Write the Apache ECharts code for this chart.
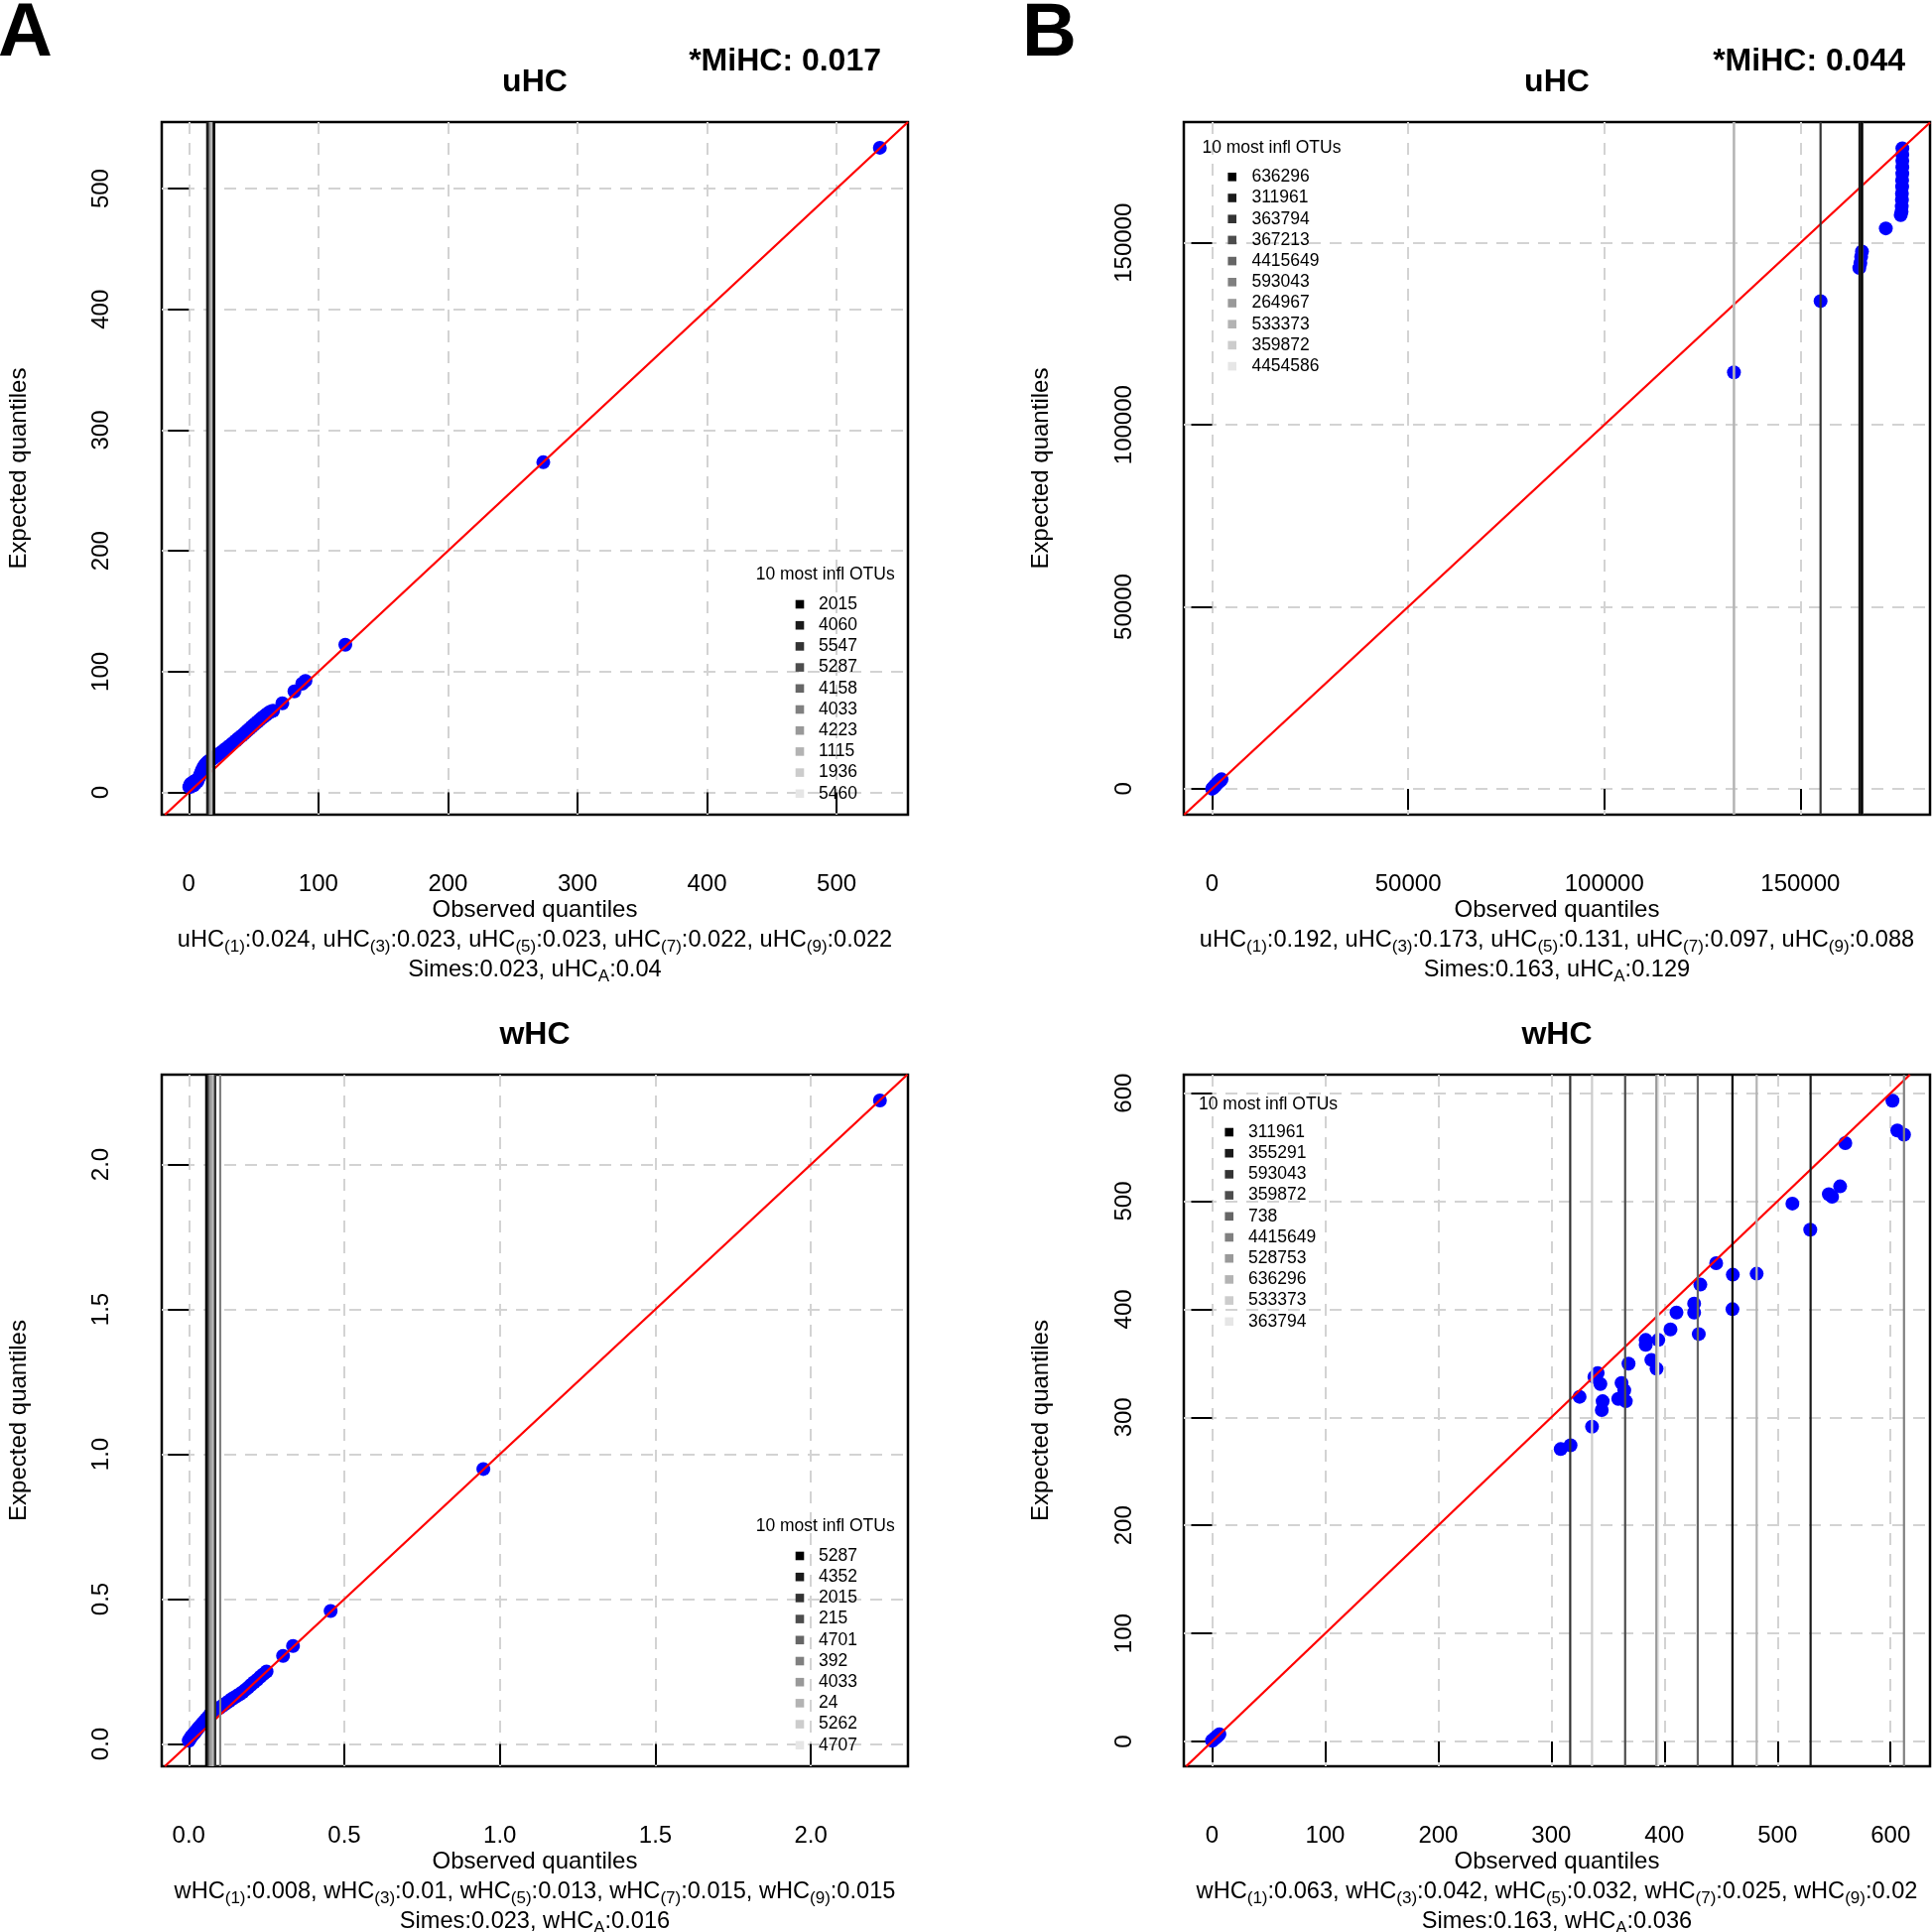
<!DOCTYPE html>
<html><head><meta charset="utf-8">
<script src="https://cdn.jsdelivr.net/npm/echarts@6/dist/echarts.min.js"></script>
<style>html,body{margin:0;padding:0;background:#fff}#c{width:1947px;height:1947px}</style>
</head><body><div id="c"></div>
<script>
// ---------------- DATA ----------------
const grayLevels = ['#000000','#1A1A1A','#333333','#4D4D4D','#666666','#808080','#999999','#B3B3B3','#CCCCCC','#E6E6E6'];
const subIdx = [1,3,5,7,9];

// Panel A, uHC
const xTicksA_u = [0,100,200,300,400,500];
const xLabelsA_u = ['0','100','200','300','400','500'];
const yTicksA_u = [0,100,200,300,400,500];
const yLabelsA_u = ['0','100','200','300','400','500'];
const obsA_u = [0.4,0.8,1.2,1.6,2.0,2.5,3.0,3.6,4.2,5.0,5.8,6.6,7.4,8.2,9.0,9.8,10.6,11.4,12.2,13.0,14.0,15.0,16.2,17.4,18.6,20.0,21.5,23.0,24.5,26.0,27.5,29.0,30.5,32.0,33.5,35.0,36.5,38.0,39.5,41.0,42.5,44.0,45.5,47.0,48.5,50.0,51.5,53.0,54.5,56.0,57.5,59.0,60.5,62.0,63.5,65.0,72.2,81.5,87.5,90.0,120.8,273.6,533.4];
const expA_u = [4.5,5.5,6.8,4.9,7.5,6.2,8.0,5.8,9.1,7.4,10.2,9.0,11.5,13.0,15.2,17.4,19.3,21.0,22.4,23.5,24.6,25.5,26.4,27.3,28.1,29.2,30.4,31.6,32.7,33.9,35.2,36.4,37.8,39.0,40.3,41.7,43.0,44.4,45.8,47.0,48.5,49.9,51.4,52.8,54.3,55.7,57.1,58.4,59.8,61.3,62.5,63.8,65.0,66.3,67.0,67.6,73.8,83.7,90.0,92.4,122.3,273.4,533.8];
const otusA_u = ['2015','4060','5547','5287','4158','4033','4223','1115','1936','5460'];
const vlineA_u = [19.6,14.2,19.2,14.6,15.0,18.8,16.0,16.6,17.2,15.6];
const statA_u = [0.024,0.023,0.023,0.022,0.022];
const simesA_u = 0.023, hcA_u = 0.04, mihcA = 0.017;

// Panel B, uHC
const xTicksB_u = [0,50000,100000,150000];
const xLabelsB_u = ['0','50000','100000','150000'];
const yTicksB_u = [0,50000,100000,150000];
const yLabelsB_u = ['0','50000','100000','150000'];
const obsB_u = [0,300,600,900,1200,1500,1800,2100,2400,133060,155150,165030,165300,165500,165710,171790,175590,175800,175850,175900,175900,175950,175950,176000,176000,176000,176000,176010];
const expB_u = [0,350,700,1000,1400,1700,2000,2300,2600,114420,134010,143090,144500,146200,147640,153990,157620,158550,160000,161800,163600,165400,167200,169000,170800,172600,174300,176000];
const otusB_u = ['636296','311961','363794','367213','4415649','593043','264967','533373','359872','4454586'];
const vlineB_u = [165700,165100,155150,165700,165100,165700,165100,133060,133060,165700];
const statB_u = [0.192,0.173,0.131,0.097,0.088];
const simesB_u = 0.163, hcB_u = 0.129, mihcB = 0.044;

// Panel A, wHC
const xTicksA_w = [0,0.5,1,1.5,2];
const xLabelsA_w = ['0.0','0.5','1.0','1.5','2.0'];
const yTicksA_w = [0,0.5,1,1.5,2];
const yLabelsA_w = ['0.0','0.5','1.0','1.5','2.0'];
const obsA_w = [0.0,0.004,0.008,0.012,0.017,0.022,0.027,0.032,0.038,0.044,0.05,0.056,0.062,0.068,0.075,0.082,0.09,0.098,0.106,0.114,0.122,0.13,0.138,0.146,0.155,0.164,0.173,0.182,0.191,0.2,0.21,0.22,0.23,0.24,0.25,0.303,0.335,0.456,0.947,2.222];
const expA_w = [0.011,0.018,0.025,0.03,0.036,0.043,0.05,0.057,0.064,0.071,0.078,0.086,0.093,0.1,0.107,0.113,0.119,0.124,0.13,0.136,0.142,0.148,0.155,0.16,0.166,0.172,0.179,0.187,0.195,0.204,0.213,0.222,0.232,0.241,0.25,0.304,0.338,0.459,0.949,2.221];
const otusA_w = ['5287','4352','2015','215','4701','392','4033','24','5262','4707'];
const vlineA_w = [0.056,0.058,0.085,0.084,0.063,0.101,0.07,0.075,0.066,0.079];
const statA_w = [0.008,0.01,0.013,0.015,0.015];
const simesA_w = 0.023, hcA_w = 0.016;

// Panel B, wHC
const xTicksB_w = [0,100,200,300,400,500,600];
const xLabelsB_w = ['0','100','200','300','400','500','600'];
const yTicksB_w = [0,100,200,300,400,500,600];
const yLabelsB_w = ['0','100','200','300','400','500','600'];
const obsB_w = [0,1.2,2.5,3.8,5.0,6.5,308.3,317,325,336,338.1,341,343.4,344.6,345.4,359.2,362.1,364.5,365.9,368.3,383.5,383.5,388.5,393.1,394.6,405.4,410.7,426.3,426.3,430.4,431.8,445.8,460.2,460.5,481.6,513.2,529,545.4,548.3,555.4,560,601.7,606,611.9];
const expB_w = [0.8,1.8,3.0,4.1,5.2,6.8,270.6,274.2,319,291.4,337.3,341,330.9,306.7,314.9,317.1,331.8,325,314.9,349.6,371.6,367,353.2,345,371.6,381.4,397,405.3,397,377.1,422.8,442.6,400.1,432,432.9,497.8,473.6,506.4,504.2,513.7,553.8,593,565.4,561.5];
const otusB_w = ['311961','355291','593043','359872','738','4415649','528753','636296','533373','363794'];
const vlineB_w = [460.2,529.3,316.7,365.3,429.5,611.9,392.9,481.6,336,394.5];
const statB_w = [0.063,0.042,0.032,0.025,0.02];
const simesB_w = 0.163, hcB_w = 0.036;

// ---------------- LAYOUT ----------------
const F = "'Liberation Sans', Arial, Helvetica, sans-serif";
const panels = [
  {box:{left:163,top:123,width:752,height:698}, x:[-20.9,555.1], y:[-18.4,555.1],
   xt:xTicksA_u, xl:xLabelsA_u, yt:yTicksA_u, yl:yLabelsA_u, obs:obsA_u, exp:expA_u,
   otus:otusA_u, vx:vlineA_u, stat:statA_u, simes:simesA_u, hc:hcA_u, name:'uHC', leg:'br', ylm:49},
  {box:{left:1193,top:123,width:752,height:698}, x:[-7219,183060], y:[-7118,183200],
   xt:xTicksB_u, xl:xLabelsB_u, yt:yTicksB_u, yl:yLabelsB_u, obs:obsB_u, exp:expB_u,
   otus:otusB_u, vx:vlineB_u, stat:statB_u, simes:simesB_u, hc:hcB_u, name:'uHC', leg:'tl1', ylm:48},
  {box:{left:163,top:1083,width:752,height:697}, x:[-0.087,2.312], y:[-0.077,2.310],
   xt:xTicksA_w, xl:xLabelsA_w, yt:yTicksA_w, yl:yLabelsA_w, obs:obsA_w, exp:expA_w,
   otus:otusA_w, vx:vlineA_w, stat:statA_w, simes:simesA_w, hc:hcA_w, name:'wHC', leg:'br', ylm:49},
  {box:{left:1193,top:1083,width:752,height:697}, x:[-25.0,634.9], y:[-22.9,617.1],
   xt:xTicksB_w, xl:xLabelsB_w, yt:yTicksB_w, yl:yLabelsB_w, obs:obsB_w, exp:expB_w,
   otus:otusB_w, vx:vlineB_w, stat:statB_w, simes:simesB_w, hc:hcB_w, name:'wHC', leg:'tl2', ylm:48}
];

function pickLabel(ticks, labels, v){
  let best=0, bd=Infinity;
  ticks.forEach((t,k)=>{const d=Math.abs(t-v); if(d<bd){bd=d;best=k;}});
  return labels[best];
}

const grid=[], xAxis=[], yAxis=[], series=[], graphic=[];
const richStyles = {
  m:{fontSize:23.6, fontFamily:F, lineHeight:30, verticalAlign:'middle', fill:'#000'},
  s:{fontSize:17, fontFamily:F, lineHeight:17, verticalAlign:'bottom', fill:'#000'}
};

panels.forEach((p,i)=>{
  const b=p.box, right=b.left+b.width, bottom=b.top+b.height, cx=b.left+b.width/2;
  grid.push({left:b.left, top:b.top, width:b.width, height:b.height, show:true,
    borderColor:'#000', borderWidth:2.5, backgroundColor:'rgba(0,0,0,0)', containLabel:false});
  xAxis.push({gridIndex:i, type:'value', min:p.x[0], max:p.x[1], position:'bottom',
    axisLine:{show:false},
    axisTick:{show:true, inside:false, length:21, customValues:p.xt, lineStyle:{color:'#000', width:2}},
    axisLabel:{show:true, customValues:p.xt, formatter:v=>pickLabel(p.xt,p.xl,v), margin:58,
      fontSize:24, color:'#000', fontFamily:F, showMinLabel:true, showMaxLabel:true},
    splitLine:{show:true, lineStyle:{color:'#D3D3D3', width:2, type:[12,9]}},
    name:'Observed quantiles', nameLocation:'middle', nameGap:84,
    nameTextStyle:{fontSize:24, color:'#000', fontFamily:F}});
  yAxis.push({gridIndex:i, type:'value', min:p.y[0], max:p.y[1], position:'left',
    axisLine:{show:false},
    axisTick:{show:true, inside:false, length:21, customValues:p.yt, lineStyle:{color:'#000', width:2}},
    axisLabel:{show:true, customValues:p.yt, formatter:v=>pickLabel(p.yt,p.yl,v), margin:p.ylm, rotate:90,
      fontSize:24, color:'#000', fontFamily:F},
    splitLine:{show:true, lineStyle:{color:'#D3D3D3', width:2, type:[12,9]}},
    name:'Expected quantiles', nameLocation:'middle', nameGap:132, nameRotate:90,
    nameTextStyle:{fontSize:24, color:'#000', fontFamily:F}});
  // points
  series.push({type:'scatter', xAxisIndex:i, yAxisIndex:i, symbol:'circle', symbolSize:14,
    itemStyle:{color:'#0000FF', opacity:1}, data:p.obs.map((v,k)=>[v,p.exp[k]]), z:3, silent:true, animation:false});
  // y = x reference line
  const lo=Math.max(p.x[0],p.y[0]), hi=Math.min(p.x[1],p.y[1]);
  series.push({type:'line', xAxisIndex:i, yAxisIndex:i, data:[[lo,lo],[hi,hi]], symbol:'none',
    lineStyle:{color:'#FF0000', width:2.3}, z:4, silent:true, animation:false});
  // vertical lines for the 10 most influential OTUs (darker drawn on top)
  p.vx.forEach((vx,k)=>{
    series.push({type:'line', xAxisIndex:i, yAxisIndex:i, data:[[vx,p.y[0]],[vx,p.y[1]]], symbol:'none',
      lineStyle:{color:grayLevels[k], width:2.2}, z:5.2-k*0.01, silent:true, animation:false});
  });
  // titles
  graphic.push({type:'text', x:cx, y:(i<2?83.5:1043), style:{text:p.name, font:`bold 32px ${F}`, fill:'#000', align:'center', verticalAlign:'middle'}});
  // subtitle lines
  const line1 = p.stat.map((v,k)=>`{m|${p.name}}{s|(${subIdx[k]})}{m|:${v}${k<p.stat.length-1?', ':''}}`).join('');
  const line2 = `{m|Simes:${p.simes}, ${p.name}}{s|A}{m|:${p.hc}}`;
  graphic.push({type:'text', x:cx, y:bottom+126.5, style:{text:line1, rich:richStyles, font:`24px ${F}`, fill:'#000', align:'center', verticalAlign:'middle'}});
  graphic.push({type:'text', x:cx, y:bottom+156.5, style:{text:line2, rich:richStyles, font:`24px ${F}`, fill:'#000', align:'center', verticalAlign:'middle'}});
  // legend
  let tX, tAlign, tY, r0, sqX, txX;
  if(p.leg==='br'){ tX=right-13.3; tAlign='right'; tY=bottom-241.5; r0=bottom-212; sqX=right-109; txX=right-90; }
  else if(p.leg==='tl1'){ tX=b.left+18.4; tAlign='left'; tY=b.top+26.6; r0=b.top+55.3; sqX=b.left+48.7; txX=b.left+68.4; }
  else { tX=b.left+15; tAlign='left'; tY=b.top+29.7; r0=b.top+58; sqX=b.left+45.7; txX=b.left+65; }
  graphic.push({type:'text', x:tX, y:tY, z:50, style:{text:'10 most infl OTUs', font:`17.5px ${F}`, fill:'#000', align:tAlign, verticalAlign:'middle'}});
  p.otus.forEach((o,k)=>{
    const ry = r0 + k*21.2;
    graphic.push({type:'rect', z:50, shape:{x:sqX-4.3, y:ry-4.3, width:8.6, height:8.6}, style:{fill:grayLevels[k]}});
    graphic.push({type:'text', x:txX, y:ry, z:50, style:{text:o, font:`17.5px ${F}`, fill:'#000', align:'left', verticalAlign:'middle'}});
  });
});

// panel letters and MiHC annotations
graphic.push({type:'text', x:-2, y:35, style:{text:'A', font:`bold 76px ${F}`, fill:'#000', align:'left', verticalAlign:'middle'}});
graphic.push({type:'text', x:1030, y:35, style:{text:'B', font:`bold 76px ${F}`, fill:'#000', align:'left', verticalAlign:'middle'}});
graphic.push({type:'text', x:888, y:62.5, style:{text:'*MiHC: '+mihcA, font:`bold 32px ${F}`, fill:'#000', align:'right', verticalAlign:'middle'}});
graphic.push({type:'text', x:1920, y:62.5, style:{text:'*MiHC: '+mihcB, font:`bold 32px ${F}`, fill:'#000', align:'right', verticalAlign:'middle'}});

const chart = echarts.init(document.getElementById('c'), null, {renderer:'canvas', width:1947, height:1947});
chart.setOption({
  animation:false, backgroundColor:'#fff',
  grid, xAxis, yAxis, series, graphic
});
</script>
</body></html>
